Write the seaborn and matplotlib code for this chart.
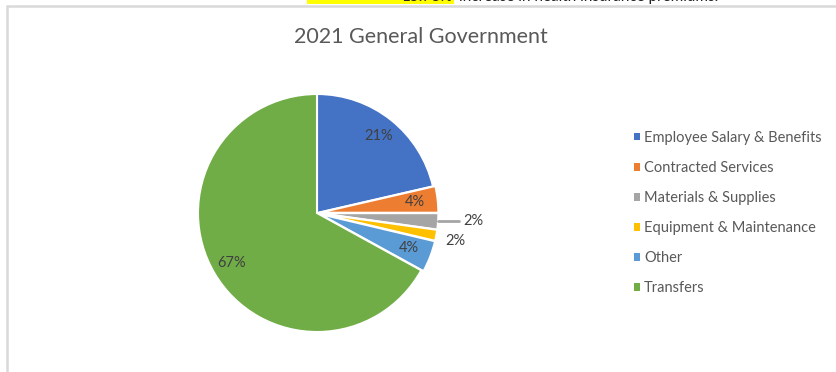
import numpy as np
import matplotlib
matplotlib.use("Agg")
import matplotlib.pyplot as plt
import matplotlib.patches as mpatches
import seaborn as sns

categories = ["Employee Salary & Benefits", "Contracted Services", "Materials & Supplies",
              "Equipment & Maintenance", "Other", "Transfers"]
values = [21.4, 3.6, 2.2, 1.5, 4.3, 67.0]
pct_labels = ["21%", "4%", "2%", "2%", "4%", "67%"]
colors = ["#4472C4", "#ED7D31", "#A5A5A5", "#FFC000", "#5B9BD5", "#70AD47"]
title = "2021 General Government"

sns.set_theme(style="white")
plt.rcParams['font.family'] = ['Lato', 'DejaVu Sans']

W, H = 837, 372
fig = plt.figure(figsize=(W / 100, H / 100), dpi=100)

def fx(px):
    return px / W

def fy(py):
    return 1 - py / H

# chart frame
frame = mpatches.Rectangle((fx(7), fy(400)), fx(900), fy(6) - fy(400), transform=fig.transFigure,
                           fill=False, edgecolor="#D9D9D9", lw=1.8, clip_on=False)
fig.patches.append(frame)

# cut-off highlighted text above the chart
hl = mpatches.Rectangle((fx(307), fy(4)), fx(454) - fx(307), fy(-5) - fy(4), transform=fig.transFigure,
                        facecolor="#FFFF00", edgecolor="none")
fig.patches.append(hl)
fig.text(fx(453), fy(1), "15.78%", ha="right", va="baseline", fontsize=11, color="#222222")
fig.text(fx(459), fy(1), "increase in health insurance premiums.", ha="left", va="baseline",
         fontsize=11, color="#222222")

fig.text(fx(421), fy(37), title, ha="center", va="center", fontsize=15.5, color="#595959")

cx, cy, R = 317, 213, 119
ax = fig.add_axes([fx(cx - R), fy(cy + R), fx(2 * R), fy(cy - R) - fy(cy + R)])
explode = [0.0, 0.02, 0.02, 0.02, 0.02, 0.0]
wedges, texts = ax.pie(values, colors=colors, startangle=90, counterclock=False,
                       explode=explode, radius=1.0,
                       wedgeprops=dict(edgecolor="white", linewidth=1.5))
ax.set_xlim(-1, 1)
ax.set_ylim(-1, 1)
ax.set_aspect("equal")
ax.axis("off")

fs = 10.5
for i, w in enumerate(wedges):
    mid = np.deg2rad((w.theta1 + w.theta2) / 2)
    if i == 2:
        x0, y0 = 1.02 * np.cos(mid), 1.02 * np.sin(mid)
        ax.plot([x0, 1.19], [y0, y0], color="#A5A5A5", lw=2, clip_on=False)
        ax.text(1.23, y0, pct_labels[i], ha="left", va="center", fontsize=fs, color="#404040", clip_on=False)
    elif i == 3:
        ax.text(1.18 * np.cos(mid), 1.18 * np.sin(mid) - 0.02, pct_labels[i], ha="center", va="center",
                fontsize=fs, color="#404040", clip_on=False)
    else:
        ax.text(0.83 * np.cos(mid), 0.83 * np.sin(mid), pct_labels[i], ha="center", va="center",
                fontsize=fs, color="#404040")

handles = [mpatches.Patch(facecolor=c, edgecolor="none", label=l) for c, l in zip(colors, categories)]
fig.legend(handles=handles, loc="upper left", bbox_to_anchor=(fx(634), fy(131)), frameon=False,
           fontsize=10.5, handlelength=0.4, handleheight=0.4, handletextpad=0.3,
           labelspacing=1.1, labelcolor="#595959", borderaxespad=0, borderpad=0)

fig.savefig("out.png", dpi=100)
